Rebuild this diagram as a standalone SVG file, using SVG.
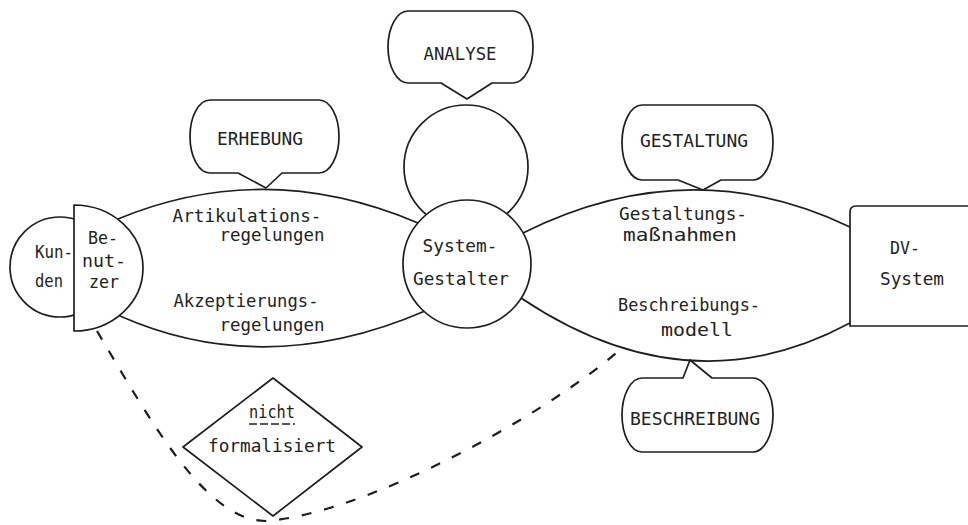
<svg xmlns="http://www.w3.org/2000/svg" width="968" height="525" viewBox="0 0 968 525">
<style>
.ln{fill:none;stroke:#1e1e1e;stroke-width:1.7;stroke-linecap:round;stroke-linejoin:round}
.bg{fill:#fff;stroke:#1e1e1e;stroke-width:1.7;stroke-linejoin:round}
.dash{fill:none;stroke:#1e1e1e;stroke-width:2.2;stroke-dasharray:10 13}
text{font-family:"DejaVu Sans Mono","Liberation Mono",monospace;font-size:17px;fill:#222;text-anchor:middle}
</style>
<rect width="968" height="525" fill="#fff"/>

<g id="connectors">
  <path class="ln" d="M118,219 Q265,158 418,223"/>
  <path class="ln" d="M120,316 Q265,380 425,311"/>
  <path class="ln" d="M523,233 Q690,150 850,227"/>
  <path class="ln" d="M521,298 Q688,410 850,323"/>
  <path class="dash" d="M97,331 C150,420 205,520 265,521 C360,515 540,420 622,348"/>
</g>

<g id="kunden">
  <circle class="ln" cx="60" cy="267" r="50"/>
  <text x="54" y="258" textLength="38" lengthAdjust="spacingAndGlyphs">Kun-</text>
  <text x="49" y="287" textLength="28" lengthAdjust="spacingAndGlyphs">den</text>
</g>

<g id="benutzer">
  <path class="bg" d="M74,205 A69 63 0 0 1 74,331 Z"/>
  <text x="103" y="244" textLength="30" lengthAdjust="spacingAndGlyphs">Be-</text>
  <text x="104" y="267" textLength="44" lengthAdjust="spacingAndGlyphs">nut-</text>
  <text x="104" y="288" textLength="30" lengthAdjust="spacingAndGlyphs">zer</text>
</g>

<g id="artikulation">
  <text x="247" y="222" textLength="149" lengthAdjust="spacingAndGlyphs">Artikulations-</text>
  <text x="272" y="241" textLength="105" lengthAdjust="spacingAndGlyphs">regelungen</text>
</g>
<g id="akzeptierung">
  <text x="246" y="307" textLength="145" lengthAdjust="spacingAndGlyphs">Akzeptierungs-</text>
  <text x="272" y="331" textLength="105" lengthAdjust="spacingAndGlyphs">regelungen</text>
</g>

<g id="analyse-kreis">
  <circle class="ln" cx="466" cy="167" r="62"/>
</g>

<g id="system-gestalter">
  <circle class="bg" cx="467" cy="264" r="64"/>
  <text x="460" y="252" textLength="75" lengthAdjust="spacingAndGlyphs">System-</text>
  <text x="461" y="285" textLength="96" lengthAdjust="spacingAndGlyphs">Gestalter</text>
</g>

<g id="gestaltung-text">
  <text x="683" y="220" textLength="128" lengthAdjust="spacingAndGlyphs">Gestaltungs-</text>
  <text x="680" y="241" textLength="114" lengthAdjust="spacingAndGlyphs">maßnahmen</text>
</g>
<g id="beschreibung-text">
  <text x="689" y="311" textLength="142" lengthAdjust="spacingAndGlyphs">Beschreibungs-</text>
  <text x="697" y="336" textLength="72" lengthAdjust="spacingAndGlyphs">modell</text>
</g>

<g id="dv-system">
  <path class="ln" d="M968,206 L856,206 Q850,206 850,212 L850,326 L968,326"/>
  <text x="905" y="254" textLength="30" lengthAdjust="spacingAndGlyphs">DV-</text>
  <text x="912" y="285" textLength="64" lengthAdjust="spacingAndGlyphs">System</text>
</g>

<g id="analyse">
  <path class="ln" d="M408,11 L513,11 A20 36 0 0 1 513,83 L492,83 L467,99 L441,83 L408,83 A20 36 0 0 1 408,11 Z"/>
  <text x="460" y="60" textLength="73" lengthAdjust="spacingAndGlyphs">ANALYSE</text>
</g>

<g id="erhebung">
  <path class="ln" d="M210,100 L319,100 A20 36.5 0 0 1 319,173 L282,173 L266,188 L238,173 L210,173 A20 36.5 0 0 1 210,100 Z"/>
  <text x="260" y="145" textLength="86" lengthAdjust="spacingAndGlyphs">ERHEBUNG</text>
</g>

<g id="gestaltung">
  <path class="ln" d="M642,105 L753,105 A20 37.5 0 0 1 753,180 L721,180 L703,190 L678,180 L642,180 A20 37.5 0 0 1 642,105 Z"/>
  <text x="694" y="147" textLength="108" lengthAdjust="spacingAndGlyphs">GESTALTUNG</text>
</g>

<g id="beschreibung">
  <path class="ln" d="M642,378 L683,378 L690,360 L712,378 L753,378 A20 37 0 0 1 753,452 L642,452 A20 37 0 0 1 642,378 Z"/>
  <text x="695" y="425" textLength="130" lengthAdjust="spacingAndGlyphs">BESCHREIBUNG</text>
</g>

<g id="nicht-formalisiert">
  <path class="ln" d="M273,378 L362,447 L273,516 L183,447 Z"/>
  <text x="272" y="418" textLength="46" lengthAdjust="spacingAndGlyphs">nicht</text>
  <line x1="249" y1="424" x2="295" y2="424" stroke="#222" stroke-width="1.3" stroke-dasharray="8 3"/>
  <text x="272" y="452" textLength="128" lengthAdjust="spacingAndGlyphs">formalisiert</text>
</g>
</svg>
